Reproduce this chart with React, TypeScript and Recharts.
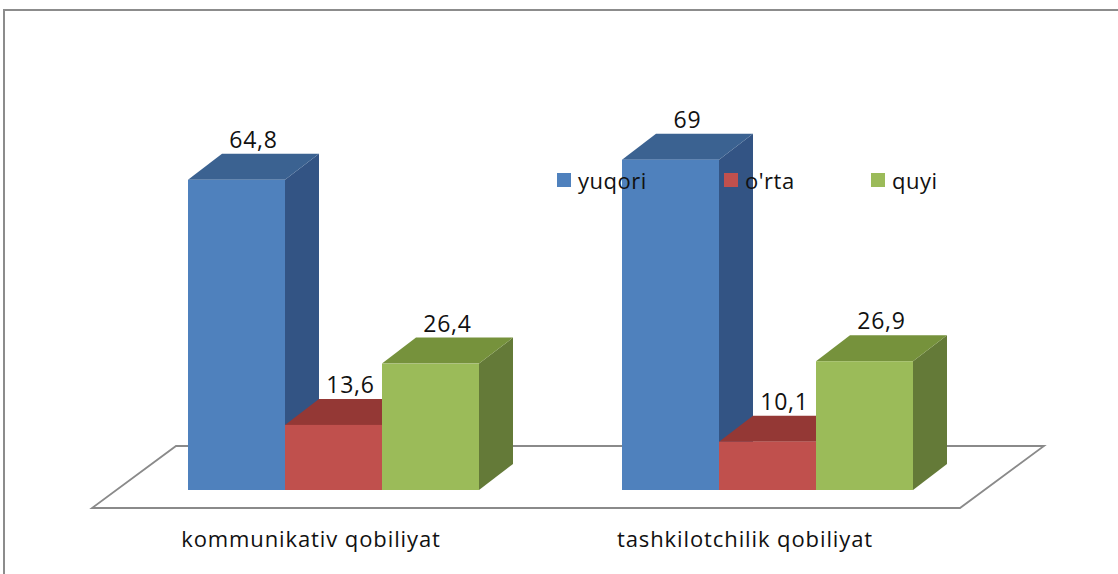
import React from 'react';
import { BarChart, Bar, XAxis, YAxis, Legend, LabelList, ReferenceArea } from 'recharts';

const categories = ['kommunikativ qobiliyat', 'tashkilotchilik qobiliyat'];
const yuqori = [64.8, 69];
const orta = [13.6, 10.1];
const quyi = [26.4, 26.9];
const seriesNames = ['yuqori', "o'rta", 'quyi'];

const data = categories.map((c, i) => ({ name: c, yuqori: yuqori[i], orta: orta[i], quyi: quyi[i] }));

const FONT = "'Open Sans', sans-serif";
const DX = 34;
const DY = 26;

const palettes = {
  yuqori: { front: '#4F81BD', top: '#3B6291', side: '#335484' },
  orta: { front: '#C0504D', top: '#943835', side: '#8A3430' },
  quyi: { front: '#9BBB59', top: '#76923C', side: '#647A38' },
};

const make3D = (key: keyof typeof palettes) => (props: any) => {
  const { x, y, width, height } = props;
  const p = palettes[key];
  if (width == null || height == null) return null;
  const top = `${x},${y} ${x + DX},${y - DY} ${x + width + DX},${y - DY} ${x + width},${y}`;
  const side = `${x + width},${y} ${x + width + DX},${y - DY} ${x + width + DX},${y + height - DY} ${x + width},${y + height}`;
  return (
    <g>
      <polygon points={side} fill={p.side} />
      <polygon points={top} fill={p.top} />
      <rect x={x} y={y} width={width} height={height} fill={p.front} />
    </g>
  );
};

const Floor = (props: any) => {
  const { x, y, width, height } = props;
  const b = y + height;
  const pts = `${x - 24},${b + 18} ${x + width - 24},${b + 18} ${x + width + 60},${b - 44} ${x + 60},${b - 44}`;
  return <polygon points={pts} fill="none" stroke="#8a8a8a" strokeWidth={1.8} />;
};

const ValueLabel = (props: any) => {
  const { x, y, width, value } = props;
  return (
    <text x={x + width / 2 + DX / 2} y={y - DY - 6} textAnchor="middle" fontFamily={FONT} fontSize={23}
      letterSpacing={0.8} fill="#111">
      {String(value).replace('.', ',')}
    </text>
  );
};

const CatTick = (props: any) => {
  const { x, y, payload } = props;
  return (
    <text x={x - 22} y={y + 57} textAnchor="middle" fontFamily={FONT} fontSize={22} letterSpacing={0.9} fill="#111">
      {payload.value}
    </text>
  );
};

const legendColors = [palettes.yuqori.front, palettes.orta.front, palettes.quyi.front];
const legendWidths = [167, 147, 80];

const LegendContent = () => (
  <div style={{ display: 'flex', fontFamily: FONT, fontSize: 22, letterSpacing: 0.5, color: '#111' }}>
    {seriesNames.map((n, i) => (
      <div key={n} style={{ width: legendWidths[i], display: 'flex', alignItems: 'center' }}>
        <span style={{ display: 'inline-block', width: 14, height: 14, background: legendColors[i], marginRight: 7 }} />
        <span>{n}</span>
      </div>
    ))}
  </div>
);

export default function App() {
  return (
    <div style={{ position: 'relative', width: 1118, height: 574, background: '#fff', overflow: 'hidden' }}>
      <style>{'body{margin:0;}'}</style>
      <div style={{ position: 'absolute', left: 3, top: 9, width: 1200, height: 700, borderTop: '2px solid #8c8c8c', borderLeft: '2px solid #8c8c8c' }} />
      <div style={{ position: 'absolute', left: 0, top: 0 }}>
        <BarChart width={1118} height={574} data={data} margin={{ top: 107, right: 134, bottom: 0, left: 116 }}
          barGap={0} barSize={97}>
          <YAxis hide domain={[0, 80]} type="number" />
          <XAxis dataKey="name" height={54} axisLine={false} tickLine={false} tickSize={0} tickMargin={0} tick={<CatTick />} interval={0} />
          <ReferenceArea y1={0} y2={80} shape={<Floor />} ifOverflow="visible" />
          <Bar dataKey="yuqori" name={seriesNames[0]} shape={make3D('yuqori')} isAnimationActive={false}>
            <LabelList dataKey="yuqori" content={<ValueLabel />} />
          </Bar>
          <Bar dataKey="orta" name={seriesNames[1]} shape={make3D('orta')} isAnimationActive={false}>
            <LabelList dataKey="orta" content={<ValueLabel />} />
          </Bar>
          <Bar dataKey="quyi" name={seriesNames[2]} shape={make3D('quyi')} isAnimationActive={false}>
            <LabelList dataKey="quyi" content={<ValueLabel />} />
          </Bar>
          <Legend content={<LegendContent />} wrapperStyle={{ position: 'absolute', left: 557, top: 165, width: 420 }} />
        </BarChart>
      </div>
    </div>
  );
}
